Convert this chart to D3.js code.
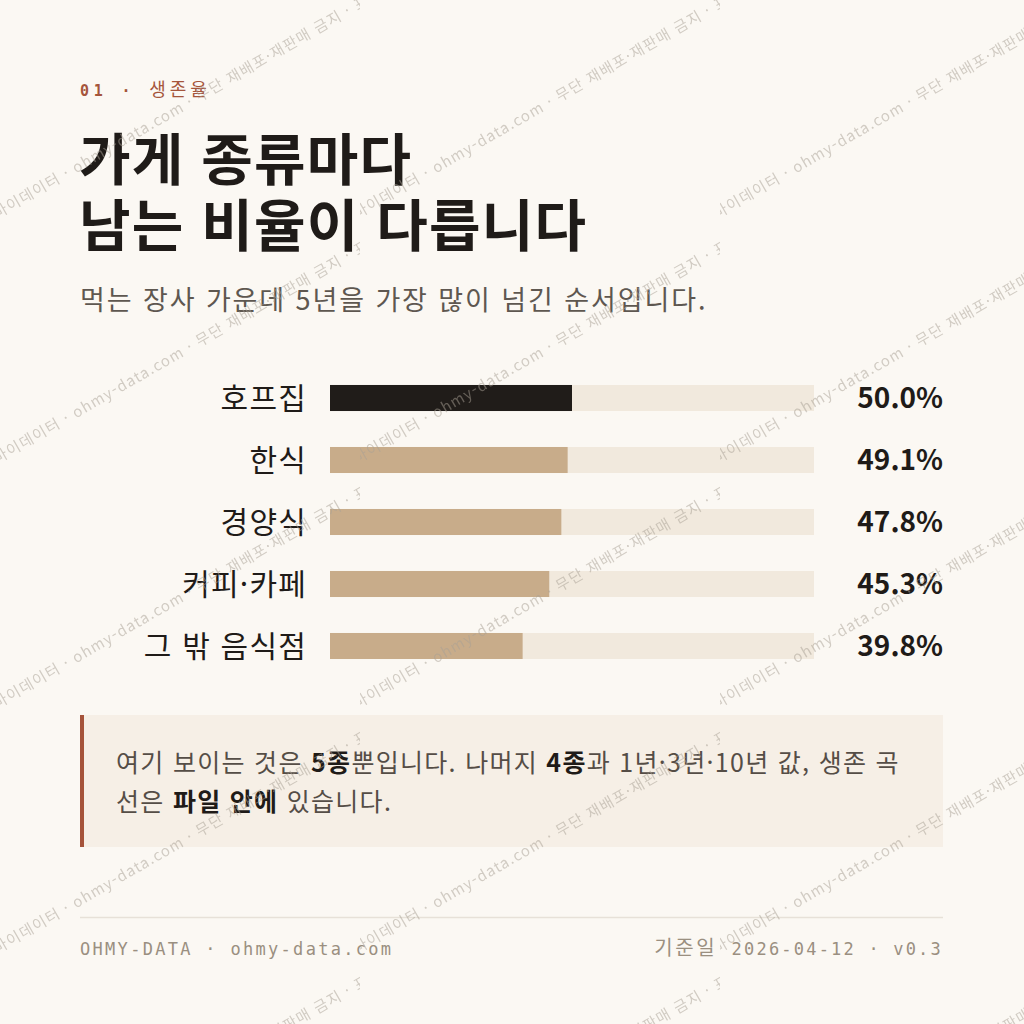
<!DOCTYPE html>
<html lang="ko">
<head>
<meta charset="utf-8">
<script src="https://cdn.jsdelivr.net/npm/d3@7"></script>
<style>
  html, body { margin: 0; padding: 0; background: #fbf8f3; }
  svg { display: block; }
</style>
</head>
<body>
<svg id="chart"></svg>
<script>
// 데이터
const categories = ["호프집", "한식", "경양식", "커피·카페", "그 밖 음식점"];
const rates = [50.0, 49.1, 47.8, 45.3, 39.8];
const highlight = "호프집";
const titleLines = ["가게 종류마다", "남는 비율이 다릅니다"];
const noteLines = [
  [["여기 보이는 것은 ", false], ["5종", true], ["뿐입니다. 나머지 ", false], ["4종", true], ["과 1년·3년·10년 값, 생존 곡", false]],
  [["선은 ", false], ["파일 안에", true], [" 있습니다.", false]]
];

const W = 1024, H = 1024;
const KR = "'Noto Sans CJK KR', 'Noto Sans', sans-serif";
const MONO = "'DejaVu Sans Mono', 'Noto Sans CJK KR', monospace";

const svg = d3.select("#chart").attr("width", W).attr("height", H);

svg.append("rect").attr("width", W).attr("height", H).attr("fill", "#fbf8f3");

// 머리글
const kicker = svg.append("text")
  .attr("x", 80).attr("y", 96)
  .attr("font-family", MONO)
  .attr("font-size", 15)
  .attr("letter-spacing", 4.8)
  .attr("fill", "#a5553b");
kicker.append("tspan").attr("font-weight", 700).text("01 · ");
kicker.append("tspan").attr("font-size", 18).attr("letter-spacing", 4).text("생존율");

svg.append("g").selectAll("text")
  .data(titleLines)
  .join("text")
  .attr("x", 79)
  .attr("y", (d, i) => 180 + i * 66)
  .attr("font-family", KR)
  .attr("font-weight", 700)
  .attr("font-size", 56)
  .attr("letter-spacing", 1.2)
  .attr("fill", "#1f1b18")
  .text(d => d);

svg.append("text")
  .attr("x", 80).attr("y", 310)
  .attr("font-family", KR)
  .attr("font-weight", 400)
  .attr("font-size", 27)
  .attr("letter-spacing", 1.9)
  .attr("fill", "#5e5750")
  .text("먹는 장사 가운데 5년을 가장 많이 넘긴 순서입니다.");

// 막대
const x = d3.scaleLinear().domain([0, 100]).range([330, 814]);
const y = d3.scaleBand().domain(categories).range([367, 677]).paddingInner(0.58).paddingOuter(0.29);

const rows = svg.append("g").selectAll("g")
  .data(categories.map((c, i) => ({ name: c, value: rates[i] })))
  .join("g");

rows.append("rect")
  .attr("x", x(0))
  .attr("y", d => y(d.name))
  .attr("width", x(100) - x(0))
  .attr("height", y.bandwidth())
  .attr("fill", "#f1e9dd");

rows.append("rect")
  .attr("x", x(0))
  .attr("y", d => y(d.name))
  .attr("width", d => x(d.value) - x(0))
  .attr("height", y.bandwidth())
  .attr("fill", d => d.name === highlight ? "#201c19" : "#c8ac8a");

rows.append("text")
  .attr("x", 307)
  .attr("y", d => y(d.name) + y.bandwidth() / 2)
  .attr("dy", "0.36em")
  .attr("text-anchor", "end")
  .attr("font-family", KR)
  .attr("font-size", 30)
  .attr("letter-spacing", 1.2)
  .attr("fill", "#1f1b18")
  .text(d => d.name);

rows.append("text")
  .attr("x", 943)
  .attr("y", d => y(d.name) + y.bandwidth() / 2)
  .attr("dy", "0.37em")
  .attr("text-anchor", "end")
  .attr("font-family", KR)
  .attr("font-weight", 700)
  .attr("font-size", 28)
  .attr("fill", "#1f1b18")
  .text(d => d3.format(".1f")(d.value) + "%");

// 안내 상자
svg.append("rect")
  .attr("x", 80).attr("y", 715)
  .attr("width", 863).attr("height", 132)
  .attr("fill", "#f6efe6");
svg.append("rect")
  .attr("x", 80).attr("y", 715)
  .attr("width", 4).attr("height", 132)
  .attr("fill", "#a5533a");

noteLines.forEach((parts, i) => {
  const t = svg.append("text")
    .attr("x", 116).attr("y", 772 + i * 39)
    .attr("font-family", KR)
    .attr("font-size", 25)
    .attr("letter-spacing", 1.3)
    .attr("fill", "#4f4842");
  parts.forEach(([s, b]) => {
    t.append("tspan")
      .attr("font-weight", b ? 700 : 400)
      .attr("fill", b ? "#1f1b18" : "#554d46")
      .text(s);
  });
});

// 바닥글
svg.append("line")
  .attr("x1", 80).attr("x2", 943)
  .attr("y1", 917.5).attr("y2", 917.5)
  .attr("stroke", "#e7e1d8").attr("stroke-width", 1.5);

svg.append("text")
  .attr("x", 80).attr("y", 955)
  .attr("font-family", MONO)
  .attr("font-size", 17)
  .attr("letter-spacing", 2.3)
  .attr("fill", "#9a8f80")
  .text("OHMY-DATA · ohmy-data.com");

const foot = svg.append("text")
  .attr("x", 943).attr("y", 955)
  .attr("text-anchor", "end")
  .attr("font-family", MONO)
  .attr("font-size", 17)
  .attr("letter-spacing", 2.2)
  .attr("fill", "#9a8f80");
foot.append("tspan").attr("font-size", 20).attr("letter-spacing", 2.5).text("기준일 ");
foot.append("tspan").text("2026-04-12 · v0.3");

// 워터마크
const defs = svg.append("defs");
const pat = defs.append("pattern")
  .attr("id", "wm")
  .attr("patternUnits", "userSpaceOnUse")
  .attr("x", 0).attr("y", -10)
  .attr("width", 360).attr("height", 245);
pat.append("text")
  .attr("transform", "translate(-3,229) rotate(-30)")
  .attr("font-family", KR)
  .attr("font-size", 15)
  .attr("letter-spacing", 1.2)
  .attr("fill", "#a89f94")
  .attr("fill-opacity", 0.5)
  .text("마이데이터 · ohmy-data.com · 무단 재배포·재판매 금지 · 표시 필수");

svg.append("rect")
  .attr("width", W).attr("height", H)
  .attr("fill", "url(#wm)")
  .style("pointer-events", "none");
</script>
</body>
</html>
